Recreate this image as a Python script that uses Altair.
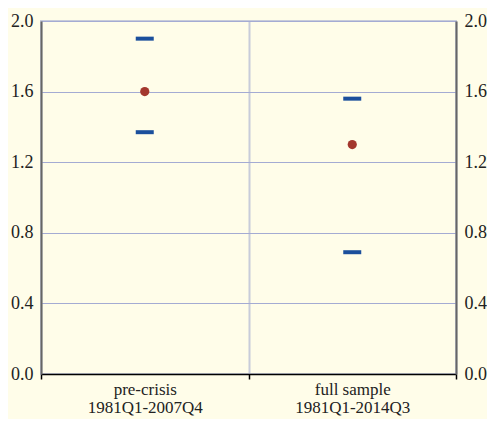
import altair as alt
import pandas as pd

categories = ["pre-crisis|1981Q1-2007Q4", "full sample|1981Q1-2014Q3"]
upper = [1.90, 1.56]
point = [1.60, 1.30]
lower = [1.37, 0.69]
y_ticks = [0.0, 0.4, 0.8, 1.2, 1.6, 2.0]

df = pd.DataFrame({"cat": categories, "upper": upper, "point": point, "lower": lower})

FONT = "Liberation Serif"
BG = "#FFFDE9"
BLUE = "#1B4F9C"
RED = "#A3372D"

xenc = alt.X(
    "cat:N",
    sort=categories,
    title=None,
    scale=alt.Scale(paddingInner=0, paddingOuter=0),
    axis=alt.Axis(
        tickBand="extent",
        grid=True,
        gridColor="#C8CCDA",
        gridWidth=2,
        labelAngle=0,
        labelExpr="split(datum.label, '|')",
        labelFont=FONT,
        labelFontSize=17,
        labelColor="#222222",
        labelLineHeight=18,
        labelPadding=2,
        labelBaseline="top",
        domainColor="#000000",
        domainWidth=1.5,
        tickColor="#000000",
        tickSize=5,
        tickWidth=1.5,
    ),
)

yscale = alt.Scale(domain=[0, 2], nice=False, zero=True)

def yaxis(orient, grid):
    return alt.Axis(
        orient=orient,
        values=y_ticks,
        format=".1f",
        grid=grid,
        gridColor="#A4ABD3",
        gridWidth=1,
        ticks=False,
        labelFont=FONT,
        labelFontSize=18,
        labelColor="#222222",
        labelPadding=8,
        domainColor="#666666",
        domainWidth=2,
        title=None,
    )

upper_m = alt.Chart(df).mark_tick(color=BLUE, size=18, thickness=4, orient="horizontal", opacity=1).encode(
    x=xenc, y=alt.Y("upper:Q", scale=yscale, axis=yaxis("left", True))
)
lower_m = alt.Chart(df).mark_tick(color=BLUE, size=18, thickness=4, orient="horizontal", opacity=1).encode(
    x=xenc, y=alt.Y("lower:Q", scale=yscale)
)
point_m = alt.Chart(df).mark_circle(color=RED, size=85, opacity=1).encode(
    x=xenc, y=alt.Y("point:Q", scale=yscale)
)
right_m = alt.Chart(df).mark_circle(opacity=0).encode(
    x=xenc, y=alt.Y("point:Q", scale=yscale, axis=yaxis("right", False))
)

left = alt.layer(upper_m, lower_m, point_m)
chart = alt.layer(left, right_m).resolve_scale(y="independent").properties(
    width=415,
    height=353,
    background=BG,
    padding={"left": 33, "top": 13, "right": 31, "bottom": 45},
    autosize=alt.AutoSizeParams(type="none"),
).configure_view(stroke="#C8CCDA", strokeWidth=2, fill=BG)

chart.save("out.html", embed_options={"renderer": "svg", "actions": False})
